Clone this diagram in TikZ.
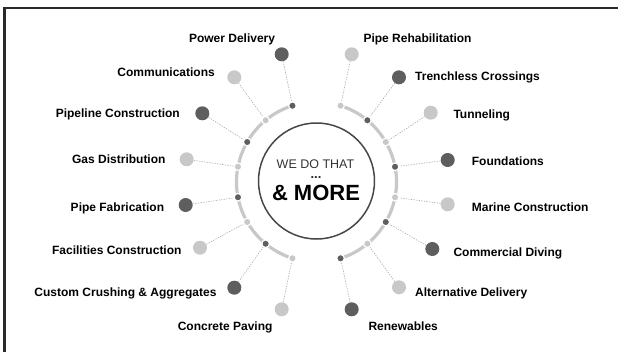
\documentclass[tikz,border=0pt]{standalone}
\usepackage{fontspec}
\setmainfont{Liberation Sans}
\usetikzlibrary{calc}
\definecolor{dk}{HTML}{5E5E5E}
\definecolor{lt}{HTML}{C8C8C8}
\definecolor{ring}{HTML}{C8C8C8}
\definecolor{conn}{HTML}{A8A8A8}
\definecolor{frame}{HTML}{2A2A2A}
\begin{document}
\begin{tikzpicture}[x=1pt,y=-1pt,
  bigdk/.style={circle,fill=dk,minimum size=14pt,inner sep=0pt},
  biglt/.style={circle,fill=lt,minimum size=14pt,inner sep=0pt},
  smdk/.style={circle,fill=dk,draw=white,line width=1.2pt,minimum size=7.6pt,inner sep=0pt},
  smlt/.style={circle,fill=lt,draw=white,line width=1.2pt,minimum size=7.6pt,inner sep=0pt},
  lbl/.style={font=\bfseries\fontsize{12}{14}\selectfont,text=black,text height=8.6pt,text depth=0pt,inner sep=0pt},
  lblL/.style={lbl,anchor=east},
  lblR/.style={lbl,anchor=west},
  connline/.style={draw=conn,line width=0.6pt,dash pattern=on 1.3pt off 1.3pt}]
\useasboundingbox (0,0) rectangle (618,351);
% frame (top and left edges)
\draw[frame,line width=2.6pt] (4.3,352) -- (4.3,8) -- (619,8);
\coordinate (C) at (316.5,182);
% ring arcs
\draw[ring,line width=3.2pt] ($(C)+(107.5:80pt)$) arc[start angle=107.5,end angle=252.5,radius=80pt];
\draw[ring,line width=3.2pt] ($(C)+(-72.5:80pt)$) arc[start angle=-72.5,end angle=72.5,radius=80pt];
% small ring dots, left
\node[smdk] (s1) at ($(C)+(107.5:80pt)$) {};
\node[smlt] (s2) at ($(C)+(129.5:80pt)$) {};
\node[smdk] (s3) at ($(C)+(150:80pt)$) {};
\node[smlt] (s4) at ($(C)+(169:80pt)$) {};
\node[smdk] (s5) at ($(C)+(191:80pt)$) {};
\node[smlt] (s6) at ($(C)+(210:80pt)$) {};
\node[smdk] (s7) at ($(C)+(230.5:80pt)$) {};
\node[smlt] (s8) at ($(C)+(252.5:80pt)$) {};
% small ring dots, right
\node[smlt] (r1) at ($(C)+(72.5:80pt)$) {};
\node[smdk] (r2) at ($(C)+(50.5:80pt)$) {};
\node[smlt] (r3) at ($(C)+(30:80pt)$) {};
\node[smdk] (r4) at ($(C)+(11:80pt)$) {};
\node[smlt] (r5) at ($(C)+(-11:80pt)$) {};
\node[smdk] (r6) at ($(C)+(-30:80pt)$) {};
\node[smlt] (r7) at ($(C)+(-50.5:80pt)$) {};
\node[smdk] (r8) at ($(C)+(-72.5:80pt)$) {};
% big dots, left
\node[bigdk] (b1) at (281.7,54.3) {};
\node[biglt] (b2) at (234.3,77.3) {};
\node[bigdk] (b3) at (202.3,113.3) {};
\node[biglt] (b4) at (186.7,159.3) {};
\node[bigdk] (b5) at (185.7,205) {};
\node[biglt] (b6) at (200,247.7) {};
\node[bigdk] (b7) at (234.3,287.7) {};
\node[biglt] (b8) at (281.7,309.3) {};
% big dots, right
\node[biglt] (c1) at (351.7,54.3) {};
\node[bigdk] (c2) at (399,77.3) {};
\node[biglt] (c3) at (430.7,112.7) {};
\node[bigdk] (c4) at (447.7,160) {};
\node[biglt] (c5) at (447.7,204.3) {};
\node[bigdk] (c6) at (432.3,249) {};
\node[biglt] (c7) at (399,287.3) {};
\node[bigdk] (c8) at (351.7,309.3) {};
% connectors
\foreach \i in {1,...,8}{
  \draw[connline] (b\i) -- (s\i);
  \draw[connline] (c\i) -- (r\i);
}
% central circle
\node[circle,draw=black!72,line width=1.5pt,minimum size=116pt,inner sep=0pt] (core) at (316.5,181) {};
\node[font=\fontsize{12.5}{14}\selectfont,text=black!80,text height=9pt,text depth=0pt,inner sep=0pt] (we) at (315.5,163.5) {WE DO THAT};
\node[font=\bfseries\fontsize{13}{14}\selectfont,text=black!85,anchor=base,text height=2pt,text depth=0pt,inner sep=0pt] (dots) at (316,178) {...};
\node[font=\bfseries\fontsize{22}{24}\selectfont,text=black,text height=15.8pt,text depth=0pt,inner sep=0pt] (more) at (316,193) {\&~MORE};
% labels, left
\node[lblL] (l1) at (275.3,38.5) {Power Delivery};
\node[lblL] (l2) at (215,71.7) {Communications};
\node[lblL] (l3) at (180,113.3) {Pipeline Construction};
\node[lblL] (l4) at (165.7,159.3) {Gas Distribution};
\node[lblL] (l5) at (164.3,206.7) {Pipe Fabrication};
\node[lblL] (l6) at (181.7,250) {Facilities Construction};
\node[lblL] (l7) at (216.7,291.7) {Custom Crushing \& Aggregates};
\node[lblL] (l8) at (272.7,325.7) {Concrete Paving};
% labels, right
\node[lblR] (m1) at (363.3,38.3) {Pipe Rehabilitation};
\node[lblR] (m2) at (415,76) {Trenchless Crossings};
\node[lblR] (m3) at (453.3,114) {Tunneling};
\node[lblR] (m4) at (471.7,161) {Foundations};
\node[lblR] (m5) at (471.7,206.7) {Marine Construction};
\node[lblR] (m6) at (453.3,251.7) {Commercial Diving};
\node[lblR] (m7) at (415,292.3) {Alternative Delivery};
\node[lblR] (m8) at (368.3,326) {Renewables};
\end{tikzpicture}
\end{document}
